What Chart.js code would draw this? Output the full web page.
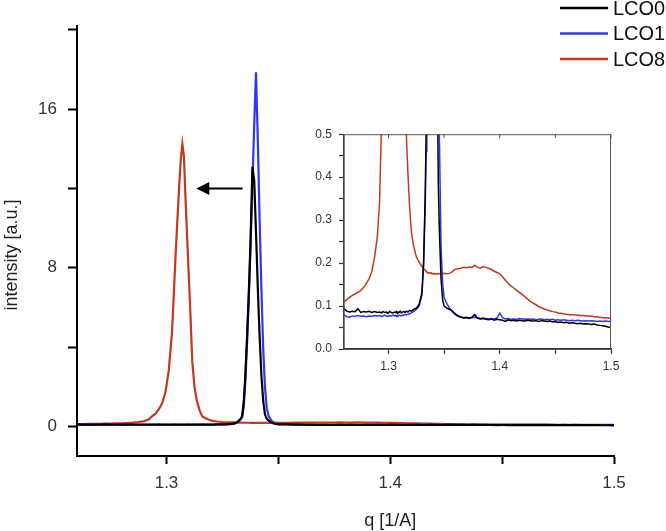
<!DOCTYPE html>
<html>
<head>
<meta charset="utf-8">
<title>LCO intensity vs q</title>
<script src="https://cdn.jsdelivr.net/npm/chart.js@4.4.1/dist/chart.umd.min.js"></script>
<style>
    body { margin: 0; background: #ffffff; }
    #wrap { position: relative; width: 666px; height: 531px; }
    #mainChart { position: absolute; left: 0; top: 0; }
    #insetChart { position: absolute; left: 290px; top: 120px; }
</style>
</head>
<body>
<div id="wrap">
    <canvas id="mainChart" width="666" height="531"></canvas>
    <canvas id="insetChart" width="340" height="260"></canvas>
</div>
<script>
// q grid, denser around the two Bragg peaks
const qValues = [
    1.2600, 1.2625, 1.2650, 1.2675, 1.2700, 1.2725, 1.2750, 1.2775, 1.2800, 1.2825, 1.2850, 1.2875, 1.2900,
    1.2920, 1.2935, 1.2950, 1.2965, 1.2980, 1.2995, 1.3010, 1.3025, 1.3040, 1.3055, 1.3064, 1.3071,
    1.3078, 1.3085, 1.3095, 1.3105, 1.3115, 1.3125, 1.3135, 1.3148, 1.3160, 1.3175, 1.3190, 1.3205,
    1.3225, 1.3250, 1.3275, 1.3300, 1.3315,
    1.3330, 1.3338, 1.3345, 1.3352, 1.3360, 1.3368, 1.3376, 1.3384, 1.3392, 1.3400,
    1.3408, 1.3416, 1.3424, 1.3432, 1.3440, 1.3448, 1.3457, 1.3472, 1.3487, 1.3500,
    1.3525, 1.3550, 1.3575, 1.3600, 1.3625, 1.3650, 1.3675, 1.3700, 1.3725, 1.3750,
    1.3775, 1.3800, 1.3825, 1.3850, 1.3875, 1.3900, 1.3925, 1.3950, 1.3975, 1.4000,
    1.4025, 1.4050, 1.4075, 1.4100, 1.4125, 1.4150, 1.4175, 1.4200, 1.4225, 1.4250,
    1.4275, 1.4300, 1.4325, 1.4350, 1.4375, 1.4400, 1.4425, 1.4450, 1.4475, 1.4500,
    1.4525, 1.4550, 1.4575, 1.4600, 1.4625, 1.4650, 1.4675, 1.4700, 1.4725, 1.4750,
    1.4775, 1.4800, 1.4825, 1.4850, 1.4875, 1.4900, 1.4925, 1.4950, 1.4975, 1.5000
];

const lco0 = [
    0.094, 0.088, 0.086, 0.088, 0.087, 0.094, 0.085, 0.087, 0.086, 0.088, 0.085, 0.087, 0.085,
    0.086, 0.084, 0.087, 0.085, 0.086, 0.083, 0.088, 0.085, 0.084, 0.086, 0.085, 0.087,
    0.084, 0.086, 0.085, 0.088, 0.084, 0.086, 0.087, 0.085, 0.088, 0.086, 0.090, 0.088,
    0.092, 0.095, 0.104, 0.130, 0.200,
    0.36, 0.50, 1.20, 2.50, 4.50, 6.80, 9.50, 13.10, 12.40, 9.80,
    7.00, 4.60, 2.60, 1.30, 0.60, 0.38, 0.28, 0.165, 0.113, 0.100,
    0.095, 0.092, 0.088, 0.082, 0.077, 0.074, 0.072, 0.073, 0.071, 0.074,
    0.080, 0.072, 0.070, 0.071, 0.069, 0.068, 0.070, 0.067, 0.069, 0.068,
    0.067, 0.064, 0.068, 0.066, 0.067, 0.065, 0.067, 0.066, 0.065, 0.067,
    0.066, 0.065, 0.066, 0.064, 0.066, 0.065, 0.064, 0.065, 0.063, 0.064,
    0.062, 0.063, 0.061, 0.062, 0.060, 0.061, 0.060, 0.059, 0.060, 0.058,
    0.059, 0.058, 0.057, 0.058, 0.056, 0.055, 0.054, 0.053, 0.051, 0.050
];

const lco1 = [
    0.080, 0.075, 0.074, 0.077, 0.076, 0.078, 0.076, 0.077, 0.075, 0.077, 0.076, 0.078, 0.077,
    0.078, 0.076, 0.077, 0.079, 0.077, 0.076, 0.078, 0.077, 0.079, 0.077, 0.078, 0.076,
    0.078, 0.077, 0.079, 0.078, 0.077, 0.079, 0.078, 0.080, 0.079, 0.081, 0.082, 0.084,
    0.087, 0.092, 0.100, 0.125, 0.190,
    0.33, 0.46, 1.00, 2.20, 4.20, 6.50, 9.20, 12.20, 15.20, 17.86,
    14.50, 10.50, 7.00, 4.00, 2.00, 0.90, 0.50, 0.24, 0.150, 0.120,
    0.105, 0.095, 0.086, 0.080, 0.076, 0.075, 0.073, 0.074, 0.072, 0.073,
    0.074, 0.072, 0.071, 0.072, 0.071, 0.070, 0.071, 0.070, 0.072, 0.084,
    0.073, 0.070, 0.071, 0.069, 0.070, 0.069, 0.071, 0.070, 0.069, 0.070,
    0.069, 0.070, 0.068, 0.069, 0.070, 0.068, 0.069, 0.068, 0.069, 0.067,
    0.068, 0.067, 0.068, 0.067, 0.066, 0.067, 0.066, 0.067, 0.066, 0.065,
    0.066, 0.065, 0.066, 0.065, 0.064, 0.065, 0.064, 0.065, 0.064, 0.065
];

const lco8 = [
    0.109, 0.115, 0.120, 0.125, 0.128, 0.132, 0.136, 0.143, 0.152, 0.163, 0.180, 0.214, 0.262,
    0.345, 0.50, 0.62, 0.85, 1.15, 1.70, 2.80, 4.80, 8.50, 11.80, 13.50, 14.25,
    13.60, 11.50, 8.80, 6.20, 3.30, 2.00, 1.30, 0.80, 0.50, 0.407, 0.330, 0.275,
    0.240, 0.215, 0.202, 0.192, 0.187,
    0.184, 0.181, 0.179, 0.178, 0.177, 0.178, 0.176, 0.177, 0.175, 0.176,
    0.175, 0.176, 0.175, 0.174, 0.176, 0.175, 0.175, 0.176, 0.175, 0.176,
    0.175, 0.176, 0.180, 0.186, 0.187, 0.188, 0.190, 0.189, 0.191, 0.190,
    0.195, 0.190, 0.188, 0.192, 0.190, 0.188, 0.185, 0.181, 0.178, 0.175,
    0.168, 0.160, 0.153, 0.147, 0.142, 0.137, 0.132, 0.127, 0.122, 0.116,
    0.111, 0.107, 0.103, 0.099, 0.096, 0.093, 0.091, 0.089, 0.087, 0.086,
    0.084, 0.083, 0.082, 0.081, 0.080, 0.080, 0.079, 0.079, 0.078, 0.078,
    0.077, 0.077, 0.076, 0.075, 0.075, 0.074, 0.073, 0.073, 0.072, 0.071
];

const seriesLabels = ["LCO0", "LCO1", "LCO8"];
const seriesColors = ["#000000", "#3434f5", "#c03a1f"];

const mainXTicks = [1.3, 1.35, 1.4, 1.45, 1.5];
const mainXLabels = [1.3, 1.4, 1.5];
const mainYTicks = [0, 4, 8, 12, 16, 20];
const mainYLabels = [0, 8, 16];

const insetXTicks = [1.3, 1.35, 1.4, 1.45, 1.5];
const insetXLabels = [1.3, 1.4, 1.5];
const insetYTicks = [0, 0.05, 0.1, 0.15, 0.2, 0.25, 0.3, 0.35, 0.4, 0.45, 0.5];
const insetYLabels = [0, 0.1, 0.2, 0.3, 0.4, 0.5];

const xTitle = "q [1/A]";
const yTitle = "intensity [a.u.]";

// shift arrow, in data units of the main plot
const arrowFrom = { x: 1.334, y: 12 };
const arrowTo = { x: 1.3133, y: 12 };

const fontFamily = "'Liberation Sans', Arial, sans-serif";
Chart.defaults.font.family = fontFamily;

const isListed = (value, list) => list.some((entry) => Math.abs(entry - value) < 1e-6);

function buildDatasets(lineWidth) {
    return [lco0, lco1, lco8].map((values, index) => ({
        label: seriesLabels[index],
        data: qValues.map((q, i) => ({ x: q, y: values[i] })),
        borderColor: seriesColors[index],
        backgroundColor: seriesColors[index],
        borderWidth: lineWidth,
        pointRadius: 0,
        tension: 0,
        fill: false,
        clip: 0
    }));
}

function axisStyle(tickValues, labelValues, formatLabel, opts) {
    return {
        type: "linear",
        min: opts.min,
        max: opts.max,
        afterBuildTicks: (axis) => {
            axis.ticks = tickValues.map((value) => ({ value }));
        },
        afterFit: opts.afterFit,
        grid: {
            display: true,
            drawOnChartArea: false,
            drawTicks: true,
            tickLength: opts.tickLength,
            tickWidth: opts.tickWidth,
            tickColor: opts.color
        },
        border: { display: true, color: opts.color, width: opts.borderWidth },
        ticks: {
            autoSkip: false,
            maxRotation: 0,
            padding: opts.padding,
            color: "#333333",
            font: { size: opts.fontSize },
            callback: (value) => (isListed(value, labelValues) ? formatLabel(value) : "")
        }
    };
}

const mainDecorations = {
    id: "mainDecorations",
    afterDraw(chart) {
        const { ctx, scales } = chart;
        const xScale = scales.x;
        const yScale = scales.y;
        ctx.save();

        // arrow
        const x1 = xScale.getPixelForValue(arrowFrom.x);
        const x2 = xScale.getPixelForValue(arrowTo.x);
        const y = yScale.getPixelForValue(arrowFrom.y);
        ctx.strokeStyle = "#000000";
        ctx.fillStyle = "#000000";
        ctx.lineWidth = 2.2;
        ctx.beginPath();
        ctx.moveTo(x1, y);
        ctx.lineTo(x2 + 11, y);
        ctx.stroke();
        ctx.beginPath();
        ctx.moveTo(x2, y);
        ctx.lineTo(x2 + 13, y - 6.5);
        ctx.lineTo(x2 + 13, y + 6.5);
        ctx.closePath();
        ctx.fill();

        // legend
        ctx.font = "20px " + fontFamily;
        ctx.textBaseline = "middle";
        ctx.textAlign = "left";
        chart.data.datasets.forEach((dataset, index) => {
            const rowY = 8 + index * 25.5;
            ctx.strokeStyle = dataset.borderColor;
            ctx.lineWidth = 2.4;
            ctx.beginPath();
            ctx.moveTo(560, rowY);
            ctx.lineTo(608, rowY);
            ctx.stroke();
            ctx.fillStyle = "#111111";
            ctx.fillText(dataset.label, 613, rowY + 1);
        });

        // axis titles
        ctx.fillStyle = "#222222";
        ctx.font = "18px " + fontFamily;
        ctx.textAlign = "center";
        ctx.fillText(xTitle, xScale.getPixelForValue(1.4), 521);
        ctx.translate(12, 255);
        ctx.rotate(-Math.PI / 2);
        ctx.fillText(yTitle, 0, 0);
        ctx.restore();
    }
};

const insetFrame = {
    id: "insetFrame",
    afterDraw(chart) {
        const { ctx, chartArea, scales } = chart;
        ctx.save();
        ctx.strokeStyle = "#555555";
        ctx.lineWidth = 1;
        ctx.strokeRect(chartArea.left, chartArea.top + 0.5, chartArea.right - chartArea.left - 0.5, chartArea.bottom - chartArea.top);
        ctx.beginPath();
        insetXTicks.forEach((value) => {
            const px = scales.x.getPixelForValue(value);
            ctx.moveTo(px, chartArea.top);
            ctx.lineTo(px, chartArea.top + 4);
        });
        ctx.stroke();
        ctx.restore();
    }
};

new Chart(document.getElementById("mainChart"), {
    type: "line",
    data: { datasets: buildDatasets(2.2) },
    plugins: [mainDecorations],
    options: {
        responsive: false,
        animation: false,
        layout: { padding: { left: 0, right: 52, top: 26, bottom: 0 } },
        plugins: { legend: { display: false }, tooltip: { enabled: false } },
        scales: {
            x: axisStyle(mainXTicks, mainXLabels, (v) => v.toFixed(1), {
                min: 1.26, max: 1.5, tickLength: 8, tickWidth: 2, color: "#000000", borderWidth: 2,
                padding: 9, fontSize: 17,
                afterFit: (axis) => { axis.height = 75; }
            }),
            y: axisStyle(mainYTicks, mainYLabels, (v) => String(v), {
                min: -1.5, max: 20.2, tickLength: 9, tickWidth: 2, color: "#000000", borderWidth: 2,
                padding: 11, fontSize: 17,
                afterFit: (axis) => { axis.width = 77; }
            })
        }
    }
});

new Chart(document.getElementById("insetChart"), {
    type: "line",
    data: { datasets: buildDatasets(1.5) },
    plugins: [insetFrame],
    options: {
        responsive: false,
        animation: false,
        layout: { padding: { left: 0, right: 19, top: 13, bottom: 0 } },
        plugins: { legend: { display: false }, tooltip: { enabled: false } },
        scales: {
            x: axisStyle(insetXTicks, insetXLabels, (v) => v.toFixed(1), {
                min: 1.26, max: 1.5, tickLength: 5, tickWidth: 1.2, color: "#333333", borderWidth: 1.4,
                padding: 5, fontSize: 12,
                afterFit: (axis) => { axis.height = 31; }
            }),
            y: axisStyle(insetYTicks, insetYLabels, (v) => v.toFixed(1), {
                min: 0, max: 0.5, tickLength: 5, tickWidth: 1.2, color: "#333333", borderWidth: 1.4,
                padding: 7, fontSize: 12,
                afterFit: (axis) => { axis.width = 54; }
            })
        }
    }
});
</script>
</body>
</html>
